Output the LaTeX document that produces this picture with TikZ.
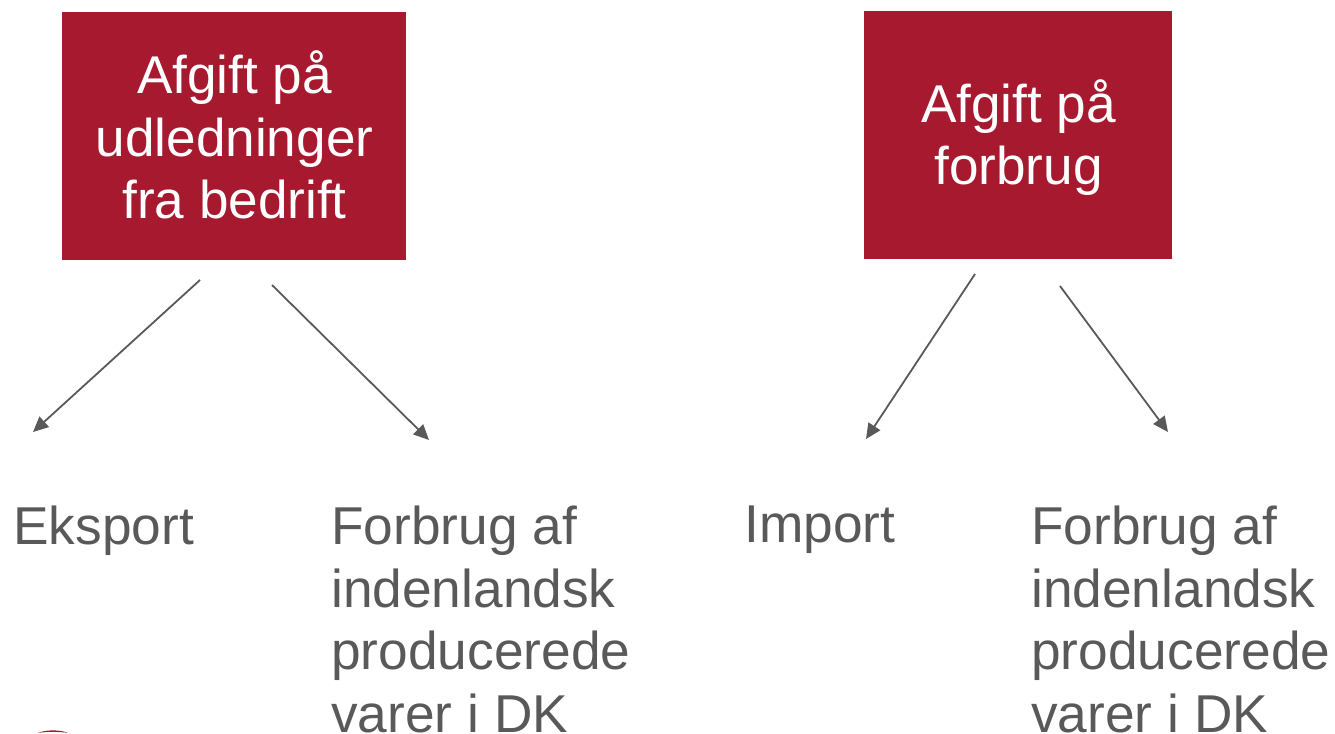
\documentclass[tikz,border=0pt]{standalone}
\usepackage{fontspec}
\setmainfont{Liberation Sans}
\usetikzlibrary{arrows.meta}
\definecolor{boxred}{HTML}{A6192E}
\definecolor{txtgray}{HTML}{595959}
\newlength{\PX}
\setlength{\PX}{0.0264583cm}
\tikzset{x=\PX,y=-\PX,
 redbox/.style={fill=boxred,draw=none,inner sep=0pt},
 boxtext/.style={inner sep=0pt,text=white,align=center,font=\fontsize{40}{47.2}\selectfont},
 lbl/.style={inner sep=0pt,text=txtgray,align=left,anchor=north west,font=\fontsize{40.1}{47.2}\selectfont},
 conn/.style={draw=txtgray,line width=1.35pt,-{Triangle[length=11.5pt,width=10.5pt]}}}
\begin{document}
\begin{tikzpicture}
\useasboundingbox (0,0) rectangle (1335,733);
\clip (0,0) rectangle (1335,733);
\node[redbox,minimum width=344\PX,minimum height=248\PX,label={[boxtext,yshift=1\PX,xshift=0.5\PX]center:Afgift på\\udledninger\\fra bedrift}] (b1) at (234,136) {};
\node[redbox,minimum width=308\PX,minimum height=248\PX,label={[boxtext,yshift=-3\PX,xshift=0.5\PX]center:Afgift på\\forbrug}] (b2) at (1018,134.5) {};
\node[lbl] (e) at (13,505.5) {Eksport};
\node[lbl] (f1) at (331,505.5) {Forbrug af\\indenlandsk\\producerede\\varer i DK};
\node[lbl] (i) at (744,505.5) {Import};
\node[lbl] (f2) at (1031,505.5) {Forbrug af\\indenlandsk\\producerede\\varer i DK};
\coordinate (a1) at (200,280); \coordinate (a2) at (33,432);
\coordinate (c1) at (272,285); \coordinate (c2) at (429,440);
\coordinate (d1) at (975,274); \coordinate (d2) at (866,439);
\coordinate (g1) at (1060,286); \coordinate (g2) at (1168,432);
\draw[conn] (a1) -- (a2);
\draw[conn] (c1) -- (c2);
\draw[conn] (d1) -- (d2);
\draw[conn] (g1) -- (g2);
\fill[boxred] (38,733) .. controls (45,729.5) and (61,729.5) .. (68,733) .. controls (61,731.5) and (45,731.5) .. (38,733) -- cycle;
\end{tikzpicture}
\end{document}
